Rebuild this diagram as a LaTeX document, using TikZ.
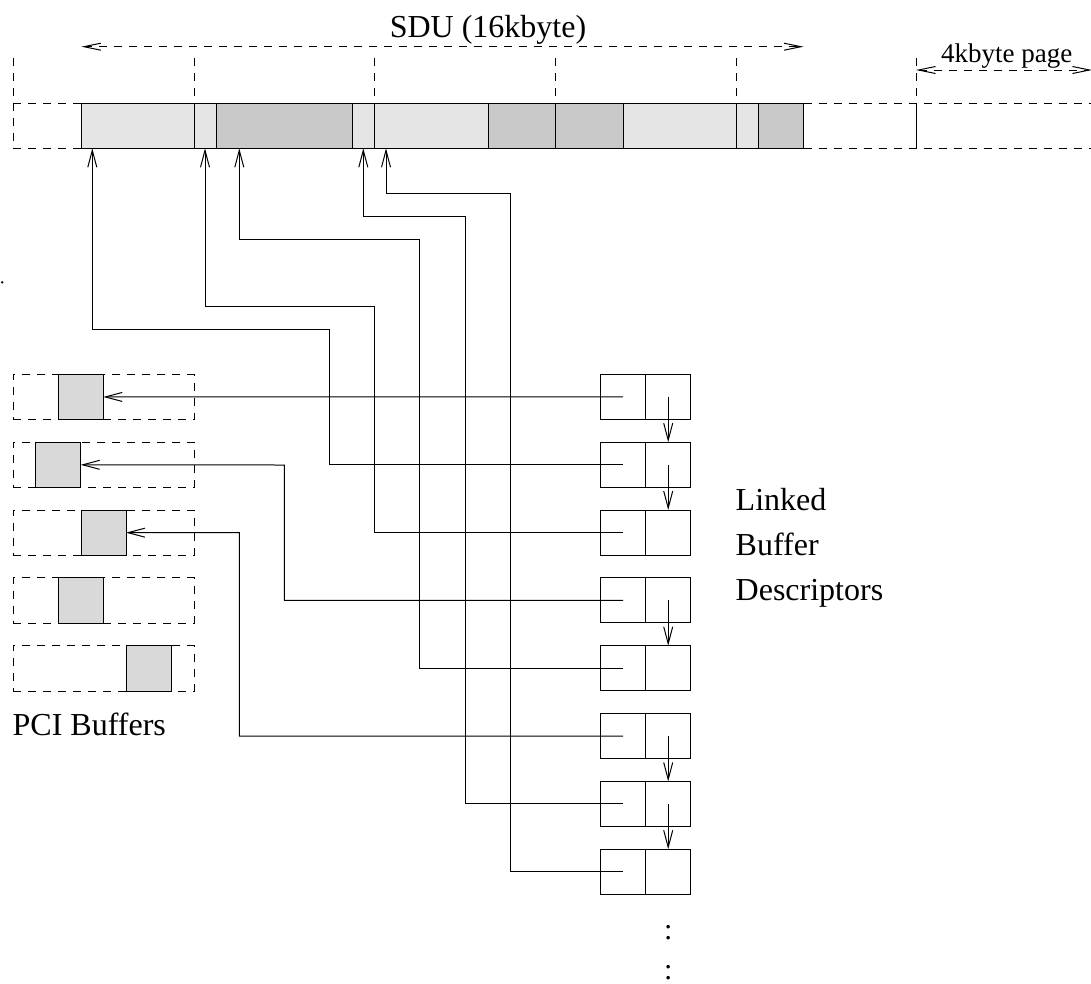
\documentclass[tikz,border=0pt]{standalone}
\usepackage{fontspec}
\setmainfont{Liberation Serif}
\usetikzlibrary{arrows.meta}
\definecolor{segLight}{HTML}{E5E5E5}
\definecolor{segDark}{HTML}{C9C9C9}
\definecolor{pciFill}{HTML}{D9D9D9}
\tikzset{
  barb/.tip={Straight Barb[length=17pt,width=9pt,line width=1pt]},
  ptr/.style={line width=1pt,-barb},
  guide/.style={line width=1pt,dash pattern=on 8pt off 7pt},
  span/.style={guide,{Straight Barb[length=17pt,width=7pt,line width=1pt]}-{Straight Barb[length=17pt,width=7pt,line width=1pt]}},
  half/.style={draw,line width=1pt,minimum width=45pt,minimum height=45pt,inner sep=0pt,outer sep=0pt},
  pcibox/.style={draw,guide,minimum width=181pt,minimum height=45.3pt,inner sep=0pt,outer sep=0pt},
  pcibuf/.style={draw,line width=1pt,fill=pciFill,minimum width=45pt,minimum height=45.3pt,inner sep=0pt,outer sep=0pt},
  seg/.style={draw,line width=1pt},
  label/.style={inner sep=0pt,font=\fontsize{32}{38}\selectfont},
  small/.style={inner sep=0pt,font=\fontsize{27}{32}\selectfont},
  ellip/.style={inner sep=0pt,font=\fontsize{30}{36}\selectfont}
}
\begin{document}
\begin{tikzpicture}[x=1pt,y=-1pt]
\useasboundingbox (0,0) rectangle (1091,983);

% page grid of the host memory
\draw[guide] (13,58.3) -- (13,148.3);
\draw[guide] (13,103.3) -- (81.4,103.3);
\draw[guide] (13,148.3) -- (81.4,148.3);
\draw[guide] (803.5,103.3) -- (1091,103.3);
\draw[guide] (803.5,148.3) -- (1091,148.3);
\foreach \px in {194,374.7,555.5,736.5,916}
  \draw[guide] (\px,58.3) -- (\px,103.3);
\draw[line width=1pt] (916,103.3) -- (916,148.3);

% the SDU, cut into fragments
\foreach \a/\b/\c in {81.4/194/segLight,194/216.4/segLight,216.4/352/segDark,
    352/374.7/segLight,374.7/488/segLight,488/555.5/segDark,555.5/623/segDark,
    623/736.5/segLight,736.5/758.5/segLight,758.5/803.5/segDark}
  \draw[seg,fill=\c] (\a,103.3) rectangle (\b,148.3);

% size annotations
\coordinate (sduL) at (81.4,46.7);
\coordinate (sduR) at (803.5,46.7);
\draw[span] (sduL) -- (sduR);
\node[label,anchor=base] (sdu) at (488,37) {SDU (16kbyte)};
\coordinate (pgL) at (916,70);
\coordinate (pgR) at (1092,70);
\draw[span] (pgL) -- (pgR);
\node[small,anchor=base] (pg) at (1006.7,62) {4kbyte page};

% fragment start addresses
\coordinate (t1) at (92.3,148.3);
\coordinate (t2) at (205,148.3);
\coordinate (t3) at (239.3,148.3);
\coordinate (t4) at (363.3,148.3);
\coordinate (t5) at (386,148.3);

% PCI buffers
\foreach \i/\sx in {1/58.3,2/35.7,3/81,4/58.3,5/126} {
  \pgfmathsetmacro\tp{374.3+67.85*(\i-1)}
  \node[pcibox,anchor=north west] (b\i) at (13,\tp) {};
  \node[pcibuf,anchor=north west] (p\i) at (\sx,\tp) {};
}
\node[label,anchor=base west] (pcilbl) at (12.5,735.5) {PCI Buffers};

% buffer descriptors
\foreach \i in {1,...,8} {
  \pgfmathsetmacro\tp{374.3+67.85*(\i-1)}
  \node[half,anchor=north west] (d\i l) at (600.7,\tp) {};
  \node[half,anchor=north west] (d\i r) at (645.7,\tp) {};
}
\node[label,anchor=base west] (lk1) at (735.5,510.5) {Linked};
\node[label,anchor=base west] (lk2) at (735.5,555.5) {Buffer};
\node[label,anchor=base west] (lk3) at (735.5,600) {Descriptors};
\node[ellip,anchor=base] (more1) at (668.3,939.5) {:};
\node[ellip,anchor=base] (more2) at (668.3,979) {:};

% descriptor chains
\draw[ptr] (d1r.center) -- (d2r.north);
\draw[ptr] (d2r.center) -- (d3r.north);
\draw[ptr] (d4r.center) -- (d5r.north);
\draw[ptr] (d6r.center) -- (d7r.north);
\draw[ptr] (d7r.center) -- (d8r.north);

% data pointers
\draw[ptr] (d1l.center) -- (p1.east);
\draw[ptr] (d2l.center) -| (329.3,329.3) -| (t1);
\draw[ptr] (d3l.center) -| (374.7,306.7) -| (t2);
\draw[ptr] (d4l.center) -| (284.3,465) -- (p2.east);
\draw[ptr] (d5l.center) -| (419.7,239) -| (t3);
\draw[ptr] (d6l.center) -| (239.3,532.7) -- (p3.east);
\draw[ptr] (d7l.center) -| (465.3,216.7) -| (t4);
\draw[ptr] (d8l.center) -| (510.3,193.7) -| (t5);

% stray mark at the left edge
\fill (2.2,282.3) circle (1.3);
\end{tikzpicture}
\end{document}
